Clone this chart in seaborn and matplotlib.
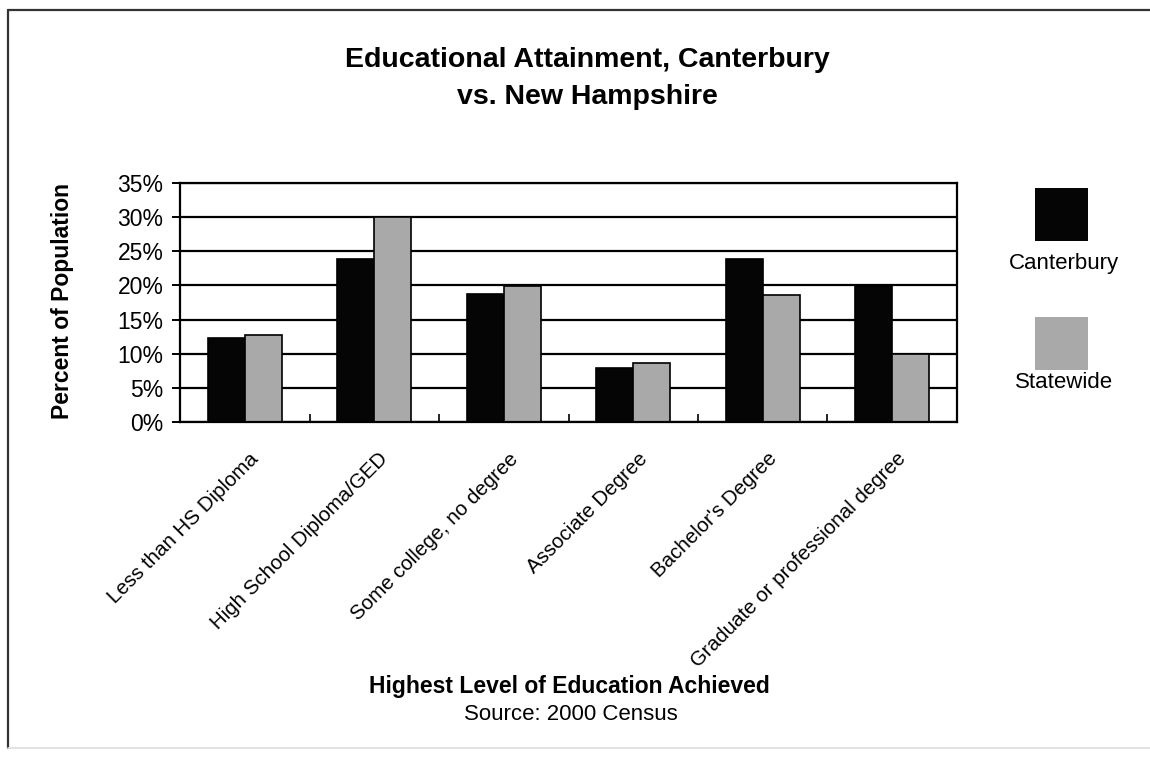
import matplotlib
matplotlib.use("Agg")
import matplotlib.pyplot as plt
import matplotlib.transforms as mtransforms
from matplotlib.patches import Rectangle
from matplotlib.lines import Line2D
from matplotlib.ticker import FuncFormatter, MultipleLocator, FixedLocator
import seaborn as sns
import pandas as pd

categories = ["Less than HS Diploma", "High School Diploma/GED", "Some college, no degree",
              "Associate Degree", "Bachelor's Degree", "Graduate or professional degree"]
canterbury = [12.3, 23.9, 18.7, 7.9, 23.8, 19.9]
statewide = [12.7, 30.0, 19.9, 8.7, 18.6, 10.0]
series_names = ["Canterbury", "Statewide"]
colors = ["#050505", "#a9a9a9"]

df = pd.DataFrame({
    "Category": categories * 2,
    "Series": [series_names[0]] * len(categories) + [series_names[1]] * len(categories),
    "Value": canterbury + statewide,
})

sns.set_theme(style="white")
plt.rcParams["font.family"] = ["Liberation Sans", "DejaVu Sans"]
plt.rcParams["text.color"] = "black"
plt.rcParams["xtick.color"] = "black"
plt.rcParams["ytick.color"] = "black"
plt.rcParams["xtick.labelcolor"] = "black"
plt.rcParams["ytick.labelcolor"] = "black"

W, H = 1150, 758
fig = plt.figure(figsize=(W / 100, H / 100), dpi=100)
fig.patch.set_facecolor("white")

ax = fig.add_axes([180 / W, 1 - 422 / H, (957 - 180) / W, (422 - 183) / H])
ax.set_axisbelow(True)
sns.barplot(data=df, x="Category", y="Value", hue="Series", palette=colors,
            order=categories, hue_order=series_names, width=0.57,
            edgecolor="black", linewidth=1.2, saturation=1, ax=ax, legend=False)

ax.set_ylim(0, 35)
ax.set_xlim(-0.5, len(categories) - 0.5)
ax.yaxis.set_major_locator(MultipleLocator(5))
ax.yaxis.set_major_formatter(FuncFormatter(lambda v, p: f"{int(round(v))}%"))
ax.grid(axis="y", color="black", linewidth=1.6)
ax.grid(axis="x", visible=False)
for s in ax.spines.values():
    s.set_visible(True)
    s.set_color("black")
    s.set_linewidth(1.6)

ax.tick_params(axis="y", direction="out", length=6, width=1.4, color="black",
               labelsize=16.5, pad=6, left=True, labelcolor="black")
ax.tick_params(axis="x", which="major", length=0, labelsize=14.8, pad=0, labelcolor="black")
ax.xaxis.set_minor_locator(FixedLocator([i + 0.5 for i in range(len(categories) - 1)]))
ax.tick_params(axis="x", which="minor", direction="in", length=6, width=1.2,
               color="black", bottom=True)

offset = mtransforms.ScaledTranslation(11 / 100, -34 / 100, fig.dpi_scale_trans)
for lab in ax.get_xticklabels():
    lab.set_rotation(45)
    lab.set_ha("right")
    lab.set_va("center")
    lab.set_rotation_mode("anchor")
    lab.set_transform(lab.get_transform() + offset)

ax.set_xlabel("")
ax.set_ylabel("")

# Titles & labels
fig.text(587 / W, 1 - 60 / H, "Educational Attainment, Canterbury", ha="center", va="center",
         fontsize=20.5, fontweight="bold", color="black")
fig.text(587 / W, 1 - 97 / H, "vs. New Hampshire", ha="center", va="center",
         fontsize=20.5, fontweight="bold", color="black")
fig.text(63 / W, 1 - 301 / H, "Percent of Population", rotation=90, ha="center", va="center",
         fontsize=16.5, fontweight="bold", color="black")
fig.text(569 / W, 1 - 687 / H, "Highest Level of Education Achieved", ha="center", va="center",
         fontsize=16.5, fontweight="bold", color="black")
fig.text(571 / W, 1 - 714 / H, "Source: 2000 Census", ha="center", va="center", fontsize=16,
         color="black")

# Legend (vertical swatches with text below)
leg_items = [(series_names[0], colors[0], 188, 263), (series_names[1], colors[1], 317, 382)]
for name, col, ytop, ytext in leg_items:
    fig.add_artist(Rectangle((1035 / W, 1 - (ytop + 53) / H), 53 / W, 53 / H,
                             transform=fig.transFigure, facecolor=col, edgecolor="none"))
    fig.text(1064 / W, 1 - ytext / H, name, ha="center", va="center", fontsize=16,
             color="black")

# Outer frame
fig.add_artist(Line2D([8 / W, 1.0], [1 - 10 / H, 1 - 10 / H], transform=fig.transFigure,
                      color="#333333", linewidth=1.6))
fig.add_artist(Line2D([8 / W, 8 / W], [1 - 10 / H, 1 - 748 / H], transform=fig.transFigure,
                      color="#333333", linewidth=1.6))
fig.add_artist(Line2D([8 / W, 1.0], [1 - 748 / H, 1 - 748 / H], transform=fig.transFigure,
                      color="#dddddd", linewidth=1.2))

fig.savefig("out.png", dpi=100, facecolor="white")
